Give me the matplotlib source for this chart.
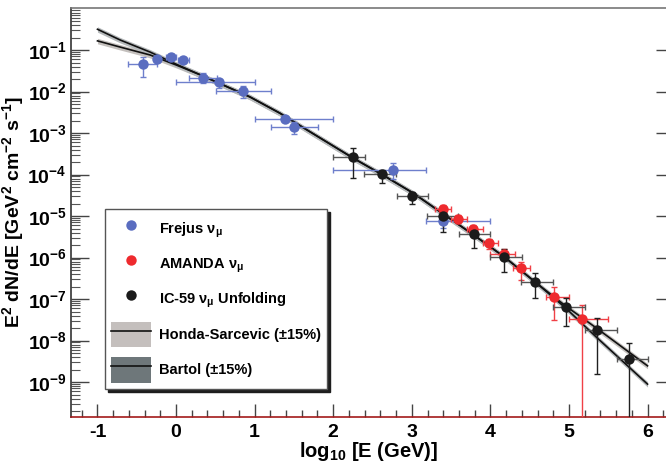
import matplotlib

matplotlib.use("Agg")
import matplotlib.pyplot as plt
import numpy as np
from matplotlib.lines import Line2D
from matplotlib.patches import Patch
from matplotlib.ticker import FixedLocator, FuncFormatter, LogLocator, MultipleLocator

plt.rcParams["font.family"] = ["Liberation Sans", "DejaVu Sans"]
plt.rcParams["font.weight"] = "bold"
plt.rcParams["mathtext.fontset"] = "custom"
plt.rcParams["mathtext.rm"] = "Liberation Sans:bold"
plt.rcParams["mathtext.it"] = "Liberation Sans:bold"
plt.rcParams["mathtext.bf"] = "Liberation Sans:bold"
plt.rcParams["mathtext.default"] = "rm"

# Frejus nu_mu
frejus_x = [-0.42, -0.24, -0.07, 0.09, 0.34, 0.55, 0.85, 1.39, 1.50, 2.76, 3.40]
frejus_xlo = [-0.61, -0.24, -0.13, 0.02, 0.17, 0.00, 0.51, 1.00, 1.21, 2.00, 3.18]
frejus_xhi = [-0.24, -0.24, 0.00, 0.17, 0.52, 1.00, 1.21, 2.00, 1.81, 3.18, 4.00]
frejus_y = [4.6e-2, 6.1e-2, 6.8e-2, 5.7e-2, 2.1e-2, 1.7e-2, 1.03e-2, 2.2e-3, 1.4e-3, 1.3e-4, 7.6e-6]
frejus_ylo = [2.24e-2, 5.6e-2, 6.0e-2, 5.1e-2, 1.6e-2, 1.2e-2, 7.0e-3, 1.9e-3, 9.5e-4, 7.8e-5, 5.1e-6]
frejus_yhi = [6.8e-2, 6.7e-2, 7.8e-2, 6.3e-2, 2.8e-2, 1.9e-2, 1.36e-2, 2.5e-3, 1.8e-3, 1.9e-4, 1.2e-5]

# AMANDA nu_mu
amanda_x = [3.40, 3.59, 3.78, 3.98, 4.17, 4.39, 4.81, 5.17]
amanda_xlo = [3.30, 3.50, 3.70, 3.90, 4.00, 4.29, 4.71, 5.00]
amanda_xhi = [3.50, 3.70, 3.90, 4.10, 4.31, 4.50, 5.00, 5.50]
amanda_y = [1.48e-5, 8.5e-6, 4.9e-6, 2.2e-6, 1.2e-6, 5.6e-7, 1.12e-7, 3.3e-8]
amanda_ylo = [1.2e-5, 6.8e-6, 3.9e-6, 1.6e-6, 8.5e-7, 2.9e-7, 3.1e-8, 1e-11]
amanda_yhi = [1.8e-5, 1.05e-5, 6.0e-6, 2.8e-6, 1.6e-6, 7.8e-7, 1.9e-7, 7.2e-8]

# IC-59 unfolding
ic59_x = [2.25, 2.62, 3.00, 3.40, 3.79, 4.17, 4.57, 4.96, 5.36, 5.76]
ic59_xlo = [2.00, 2.39, 2.81, 3.19, 3.60, 4.00, 4.39, 4.80, 5.20, 5.61]
ic59_xhi = [2.40, 2.80, 3.20, 3.59, 3.99, 4.40, 4.80, 5.20, 5.61, 6.00]
ic59_y = [2.6e-4, 1.02e-4, 3.0e-5, 1.0e-5, 3.7e-6, 1.03e-6, 2.6e-7, 6.4e-8, 1.8e-8, 3.5e-9]
ic59_ylo = [8.3e-5, 6.3e-5, 2.0e-5, 4.1e-6, 1.7e-6, 4.5e-7, 1.06e-7, 2.3e-8, 1.55e-9, 1e-11]
ic59_yhi = [4.4e-4, 1.3e-4, 3.7e-5, 1.65e-5, 5.4e-6, 1.6e-6, 4.3e-7, 1.05e-7, 3.5e-8, 8.7e-9]

# model predictions, log10 of flux
model_x = [-1.0, -0.71, -0.33, 0.0, 0.31, 0.94, 1.32, 1.67, 2.25, 2.63, 3.02, 3.40,
           3.79, 4.18, 4.57, 4.96, 5.35, 6.0]
bartol_log = [-0.50, -0.76, -1.05, -1.34, -1.60, -2.13, -2.52, -2.93, -3.60, -4.01, -4.45,
              -4.95, -5.46, -5.99, -6.59, -7.22, -7.92, -9.05]
honda_log = [-0.78, -0.93, -1.12, -1.36, -1.60, -2.13, -2.52, -2.93, -3.60, -4.01, -4.45,
             -4.95, -5.46, -5.99, -6.59, -7.17, -7.70, -8.61]

blue = "#5a6dc0"
blue_err = "#6e7fcc"
red = "#ee2a2e"
black = "#1b1b1b"


def asym(v, lo, hi):
    v, lo, hi = np.asarray(v), np.asarray(lo), np.asarray(hi)
    return [v - lo, hi - v]


fig = plt.figure(figsize=(6.66, 4.66), dpi=100)
ax = fig.add_axes([0.1066, 0.1052, 0.8934, 0.8777])
ax.set_yscale("log")

# model bands
mx = np.asarray(model_x)
for logs, band in [(honda_log, "#c4c0bd"), (bartol_log, "#b5b9bb")]:
    f = 10 ** np.asarray(logs)
    ax.fill_between(mx, f * 0.85, f * 1.15, color=band, lw=0, zorder=1)
    ax.plot(mx, f, color="#111111", lw=1.2, zorder=2)

ekw = dict(fmt="none", elinewidth=1.0, capsize=2.5, capthick=1.0, zorder=3)

# Frejus
ax.errorbar(frejus_x, frejus_y, xerr=asym(frejus_x, frejus_xlo, frejus_xhi),
            yerr=asym(frejus_y, frejus_ylo, frejus_yhi), ecolor=blue_err, **ekw)
ax.plot(frejus_x, frejus_y, "o", ms=7.5, color=blue, mec="none", zorder=4)

# AMANDA
ax.errorbar(amanda_x, amanda_y, xerr=asym(amanda_x, amanda_xlo, amanda_xhi),
            yerr=asym(amanda_y, amanda_ylo, amanda_yhi), ecolor="#f04046", **ekw)
ax.plot(amanda_x, amanda_y, "o", ms=7.5, color=red, mec="none", zorder=4)

# IC-59
ax.errorbar(ic59_x, ic59_y, xerr=asym(ic59_x, ic59_xlo, ic59_xhi), ecolor="#555555",
            **ekw)
ax.errorbar(ic59_x, ic59_y, yerr=asym(ic59_y, ic59_ylo, ic59_yhi), ecolor="#202020",
            **ekw)
ax.plot(ic59_x, ic59_y, "o", ms=7.5, color=black, mec="none", zorder=5)

ax.set_xlim(-1.337, 6.235)
ax.set_ylim(1.44e-10, 1.03)

# axes styling, ROOT-like
ax.xaxis.set_major_locator(MultipleLocator(1))
ax.xaxis.set_minor_locator(MultipleLocator(0.2))
ax.xaxis.set_major_formatter(FuncFormatter(lambda v, p: "%d" % round(v)))
ax.yaxis.set_major_locator(FixedLocator([10.0 ** k for k in range(-9, 0)]))
ax.yaxis.set_minor_locator(LogLocator(base=10, subs=np.arange(2, 10), numticks=100))
ax.yaxis.set_major_formatter(FuncFormatter(lambda v, p: r"$10^{%d}$" % round(np.log10(v))))

ax.tick_params(axis="x", which="major", direction="in", length=9.5, width=1.0,
               color="#444444", labelsize=14, pad=5, top=False)
ax.tick_params(axis="x", which="minor", direction="in", length=4.7, width=1.0,
               color="#444444", top=False)
ax.tick_params(axis="y", which="major", direction="in", length=13, width=1.0,
               color="#444444", labelsize=14, pad=3, right=False)
ax.tick_params(axis="y", which="minor", direction="in", length=6.5, width=0.8,
               color="#555555", right=False)

ax.spines["top"].set_color("#777777")
ax.spines["left"].set_color("#333333")
ax.spines["bottom"].set_color("#a31a1a")
ax.spines["right"].set_visible(False)
for s in ax.spines.values():
    s.set_linewidth(1.2)

# right-hand ticks
ax2 = ax.twinx()
ax2.set_yscale("log")
ax2.set_ylim(ax.get_ylim())
ax2.yaxis.set_major_locator(FixedLocator([10.0 ** k for k in range(-9, 0)]))
ax2.yaxis.set_minor_locator(FixedLocator([]))
ax2.tick_params(axis="y", direction="in", length=7, width=1.0, color="#444444",
                labelright=False)
for s in ax2.spines.values():
    s.set_visible(False)

ax.set_xlabel(r"log$_{10}$ [E (GeV)]", fontsize=14.5, fontweight="bold", labelpad=-1)
ax.set_ylabel(r"E$^2$ dN/dE [GeV$^2$ cm$^{-2}$ s$^{-1}$]", fontsize=14,
              fontweight="bold", labelpad=1)

handles = [
    Line2D([], [], ls="none", marker="o", ms=7.5, color=blue, mec="none"),
    Line2D([], [], ls="none", marker="o", ms=7.5, color=red, mec="none"),
    Line2D([], [], ls="none", marker="o", ms=7.5, color=black, mec="none"),
    (Patch(facecolor="#c4bfbd", edgecolor="none"), Line2D([], [], color="#111111", lw=1.2)),
    (Patch(facecolor="#6e777a", edgecolor="none"), Line2D([], [], color="#111111", lw=1.2)),
]
labels = [
    r"Frejus $\nu_{\mu}$",
    r"AMANDA $\nu_{\mu}$",
    r"IC-59 $\nu_{\mu}$ Unfolding",
    "Honda-Sarcevic (\u00b115%)",
    "Bartol (\u00b115%)",
]
leg = ax.legend(handles, labels, loc="lower left", bbox_to_anchor=(0.057, 0.068),
                borderaxespad=0, prop={"size": 10.5, "weight": "bold"}, handlelength=2.7,
                handleheight=2.3, labelspacing=0.68, handletextpad=0.55, borderpad=0.45,
                fancybox=False, shadow={"color": "#1e1e1e", "alpha": 1.0},
                framealpha=1.0, edgecolor="#555555")
leg.get_frame().set_linewidth(1.0)

fig.savefig("out.png", dpi=100)
